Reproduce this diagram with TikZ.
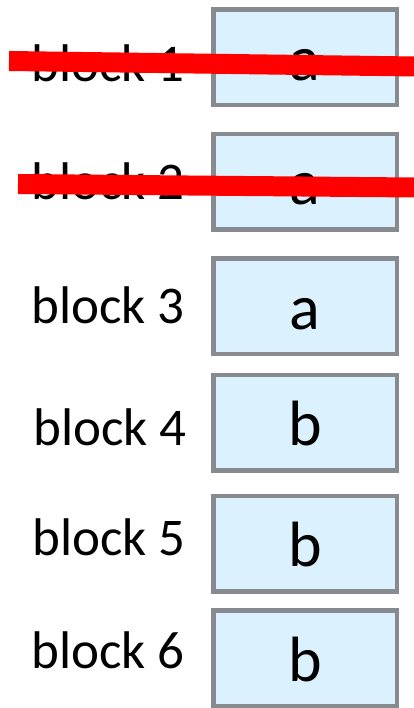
\documentclass[tikz,border=0pt]{standalone}
\usepackage{fontspec}
\setmainfont{Carlito}
\definecolor{boxfill}{RGB}{219,242,254}
\definecolor{boxline}{RGB}{135,138,143}
\definecolor{strike}{RGB}{255,0,0}
\begin{document}
\begin{tikzpicture}[x=1pt,y=-1pt,
  blockbox/.style={draw=boxline,fill=boxfill,line width=4.5pt,minimum width=183.5pt,minimum height=95.5pt,inner sep=0pt,font=\fontsize{64}{70}\selectfont,text height=46pt,text depth=0pt},
  blocklabel/.style={anchor=base east,inner sep=0pt,font=\fontsize{53}{60}\selectfont},
  strikeline/.style={draw=strike,line width=20pt,line cap=butt}]
\useasboundingbox (0,0) rectangle (413,708);
\node[blockbox] (b1) at (305,57.5) {a};
\node[blockbox] (b2) at (305,182) {a};
\node[blockbox] (b3) at (305,306) {a};
\node[blockbox] (b4) at (305,422.5) {b};
\node[blockbox] (b5) at (305,543.5) {b};
\node[blockbox] (b6) at (305,658) {b};
\node[blocklabel] (l1) at (185,82) {block 1};
\node[blocklabel] (l2) at (185,200) {block 2};
\node[blocklabel] (l3) at (185,323) {block 3};
\node[blocklabel] (l4) at (187,445) {block 4};
\node[blocklabel] (l5) at (186,555) {block 5};
\node[blocklabel] (l6) at (185,668) {block 6};
\draw[strikeline] (9,61) -- (415,66.5);
\draw[strikeline] (18,184) -- (415,187.5);
\end{tikzpicture}
\end{document}
